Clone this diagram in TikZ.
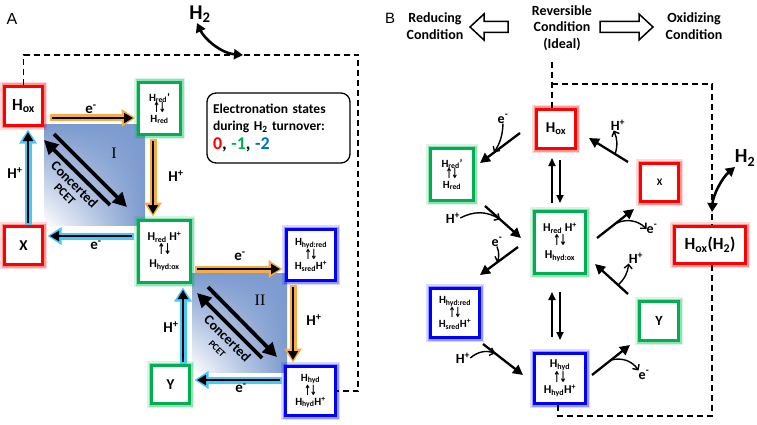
\documentclass[tikz,border=0pt]{standalone}
\usepackage{fontspec}
\setmainfont{Carlito}
\newfontfamily\dejavu{DejaVu Sans}
\newfontfamily\arialf{Liberation Sans}
\newfontfamily\timesf{Liberation Serif}
\usetikzlibrary{arrows.meta,calc,shadings}
\newcommand\sbs[1]{\textsubscript{#1}}
\newcommand\sps[1]{\textsuperscript{#1}}
\newcommand\fz[2]{\fontsize{#1}{#2}\selectfont\bfseries}
\newcommand\ud[1]{\scalebox{0.6}[1]{\dejavu\fontsize{#1}{#1}\selectfont ↑\kern-0.15em↓}}
\definecolor{cred}{RGB}{255,0,0}
\definecolor{cgreen}{RGB}{0,176,80}
\definecolor{cblue}{RGB}{0,0,255}
\definecolor{corange}{RGB}{247,172,70}
\definecolor{ccyan}{RGB}{70,200,250}
\definecolor{cshade}{RGB}{124,154,206}
\definecolor{nblue}{RGB}{0,112,192}
\tikzset{
 box/.style={draw=#1, line width=3pt, fill=white, align=center, inner sep=0pt,
   preaction={draw=#1, line width=9pt, opacity=0.15},
   preaction={draw=#1, line width=6pt, opacity=0.3}},
 garr/.style={line width=2.4pt, -{Triangle[length=9pt,width=10pt]},
   preaction={draw=#1, line width=7pt, -{Triangle[length=14pt,width=17pt]}, shorten >=-2.5pt, shorten <=-2pt}},
 barr/.style={line width=2.3pt, -{Triangle[length=10pt,width=10pt]}},
 varr/.style={line width=1.7pt, -{Triangle[length=8pt,width=7pt]}},
 sarr/.style={line width=1.4pt, -{Straight Barb[length=4pt,width=8pt]}},
 carr/.style={line width=3.8pt, -{Triangle[length=14pt,width=14pt]}},
 htwo/.style={line width=2.6pt, {Triangle[length=9pt,width=10pt]}-{Triangle[length=9pt,width=10pt]}},
 dashl/.style={line width=1.6pt, dash pattern=on 6pt off 4pt},
 lbl/.style={font=\fz{15}{18}, inner sep=0pt},
 lblb/.style={font=\fz{14}{17}, inner sep=0pt},
}
\begin{document}
\begin{tikzpicture}[x=1pt,y=-1pt]
\useasboundingbox (0,0) rectangle (757,425);
\fill[white] (0,0) rectangle (757,425);

% ---------------- Panel A ----------------
\node[font=\arialf\fontsize{16}{18}\selectfont, inner sep=0pt] (labA) at (12,19) {A};

\shade[upper right=cshade, upper left=cshade, lower right=cshade, lower left=white] (44,125) rectangle (145,225);
\shade[upper right=cshade, upper left=cshade, lower right=cshade, lower left=white] (192,273) rectangle (287,372);

\node[box=cred, minimum width=38pt, minimum height=39pt, font=\fz{17}{20}] (Hox) at (23.5,106) {H\sbs{ox}};
\node[box=cgreen, minimum width=42pt, minimum height=52pt, font=\fz{11}{12}] (Hredp) at (159.5,108.5) {H\sbs{red}’\\[-1pt]\ud{14}\\[-2pt]H\sbs{red}};
\node[box=cred, minimum width=38pt, minimum height=38pt, font=\fz{15}{18}] (X) at (23.5,245.5) {X};
\node[box=cgreen, minimum width=52pt, minimum height=62pt, font=\fz{12}{13}] (HredH) at (164.5,251.5) {H\sbs{red} H\sps{+}\\[1pt]\ud{15}\\[0pt]H\sbs{hyd:ox}};
\node[box=cblue, minimum width=49pt, minimum height=51pt, font=\fz{11}{12}] (Hhydred) at (311,255) {H\sbs{hyd:red}\\[0pt]\ud{14}\\[-2pt]H\sbs{sred}H\sps{+}};
\node[box=cgreen, minimum width=38pt, minimum height=38pt, font=\fz{15}{18}] (Y) at (170.5,384.5) {Y};
\node[box=cblue, minimum width=50pt, minimum height=49pt, font=\fz{11}{12}] (Hhyd) at (310.5,391) {H\sbs{hyd}\\[0pt]\ud{14}\\[-2pt]H\sbs{hyd}H\sps{+}};

\node[draw, rounded corners=9pt, line width=1.3pt, minimum width=143pt, minimum height=70pt, text width=131pt, align=left, inner sep=5pt, font=\fz{13.5}{17}] (info) at (278.5,128)
 {Electronation states\\during H\sbs{2} turnover:\\[2pt]{\fz{18}{20}\color{cred}0\color{black}, \color{cgreen}-1\color{black}, \color{nblue}-2}};

% arrows A
\draw[garr=corange] ([xshift=8pt,yshift=-12pt]Hox.east) -- ([xshift=-4pt,yshift=-9.5pt]Hredp.west);
\draw[garr=corange] ([xshift=-6.5pt,yshift=-5pt]Hredp.south) -- ([xshift=-11.5pt,yshift=5pt]HredH.north);
\draw[garr=ccyan] ([xshift=-5pt,yshift=15.5pt]HredH.west) -- ([xshift=6pt,yshift=9.5pt]X.east);
\draw[garr=ccyan] ([xshift=4.5pt,yshift=2pt]X.north) -- ([xshift=4.5pt,yshift=-5pt]Hox.south);
\draw[garr=corange] ([xshift=5pt,yshift=-17.5pt]HredH.east) -- ([xshift=-5pt,yshift=-14pt]Hhydred.west);
\draw[garr=corange] ([xshift=-18pt,yshift=-5pt]Hhydred.south) -- ([xshift=-17.5pt,yshift=5pt]Hhyd.north);
\draw[garr=ccyan] ([xshift=-4pt,yshift=11pt]Hhyd.west) -- ([xshift=6pt,yshift=4.5pt]Y.east);
\draw[garr=ccyan] ([xshift=12.5pt,yshift=2pt]Y.north) -- ([xshift=18.5pt,yshift=-6pt]HredH.south);

\node[lbl] (eA1) at (91,109) {e\sps{-}};
\node[lbl] (hA2) at (176,176) {H\sps{+}};
\node[lbl] (eA3) at (96,245) {e\sps{-}};
\node[lbl] (hA4) at (15,173) {H\sps{+}};
\node[lbl] (eA5) at (240,256) {e\sps{-}};
\node[lbl] (hA6) at (314,320) {H\sps{+}};
\node[lbl] (eA7) at (241,388) {e\sps{-}};
\node[lbl] (hA8) at (171,327) {H\sps{+}};

% concerted PCET
\coordinate (cI1) at (54,134); \coordinate (cI2) at (127,207);
\coordinate (cI3) at (110,205); \coordinate (cI4) at (44,140);
\draw[carr] (cI1) -- (cI2);
\draw[carr] (cI3) -- (cI4);
\node[rotate=-45, align=center, inner sep=0pt, font=\fz{14}{14}] (pcetI) at (70,189) {Concerted\\[-1pt]{\fz{12}{12}PCET}};
\coordinate (cII1) at (208,287); \coordinate (cII2) at (277,357);
\coordinate (cII3) at (262,358); \coordinate (cII4) at (197,293);
\draw[carr] (cII1) -- (cII2);
\draw[carr] (cII3) -- (cII4);
\node[rotate=-45, align=center, inner sep=0pt, font=\fz{14}{14}] (pcetII) at (223,343) {Concerted\\[-1pt]{\fz{9.5}{10}PCET}};

\node[font=\timesf\fontsize{16}{16}\selectfont, inner sep=0pt] (romI) at (114,153) {I};
\node[font=\timesf\fontsize{16}{16}\selectfont, inner sep=0pt] (romII) at (260,300) {II};

% dashed and H2 (A)
\coordinate (dA1) at (23.5,55); \coordinate (dA2) at (358,55);
\draw[dashl] (Hox.north) -- (dA1) -- (dA2) |- (Hhyd.east);
\node[font=\fz{21}{22}, inner sep=0pt] (H2A) at (200,14) {H\sbs{2}};
\coordinate (h2a1) at (197,23); \coordinate (h2a2) at (243,55);
\draw[htwo] (h2a1) .. controls (204,38) and (220,53) .. (h2a2);

% ---------------- Panel B ----------------
\node[font=\arialf\fontsize{15}{17}\selectfont, inner sep=0pt] (labB) at (390,18) {B};
\node[align=center, inner sep=0pt, font=\fz{14}{17}] (redc) at (435,26) {Reducing\\Condition};
\node[align=center, inner sep=0pt, font=\fz{14}{16.5}] (revc) at (562,28) {Reversible\\Condition\\(Ideal)};
\node[align=center, inner sep=0pt, font=\fz{14}{17}] (oxc) at (694,26) {Oxidizing\\Condition};
\draw[line width=1.5pt, line join=miter] (470,27) -- (484,14) -- (484,21.5) -- (508,21.5) -- (508,32.5) -- (484,32.5) -- (484,40) -- cycle;
\draw[line width=1.5pt, line join=miter] (653,27) -- (639,14) -- (639,21.5) -- (600,21.5) -- (600,32.5) -- (639,32.5) -- (639,40) -- cycle;

\node[box=cred, minimum width=39pt, minimum height=39pt, font=\fz{15}{18}] (HoxB) at (556,129) {H\sbs{ox}};
\node[box=cgreen, minimum width=43pt, minimum height=52pt, font=\fz{11}{12}] (HredpB) at (452,174.5) {H\sbs{red}’\\[-1pt]\ud{14}\\[-2pt]H\sbs{red}};
\node[box=cred, minimum width=38pt, minimum height=38pt, font=\fz{10}{12}] (XB) at (659.5,182.5) {X};
\node[box=cgreen, minimum width=51pt, minimum height=62pt, font=\fz{12}{13}] (HredHB) at (560,242.5) {H\sbs{red} H\sps{+}\\[1pt]\ud{15}\\[0pt]H\sbs{hyd:ox}};
\node[box=cred, minimum width=71pt, minimum height=37pt, font=\fz{17}{20}] (HoxH2) at (710,245) {H\sbs{ox}(H\sbs{2})};
\node[box=cblue, minimum width=49pt, minimum height=49pt, font=\fz{11}{12}] (HhydredB) at (455,313) {H\sbs{hyd:red}\\[0pt]\ud{14}\\[-2pt]H\sbs{sred}H\sps{+}};
\node[box=cgreen, minimum width=39pt, minimum height=39pt, font=\fz{14}{17}] (YB) at (659,321) {Y};
\node[box=cblue, minimum width=51pt, minimum height=50pt, font=\fz{12}{13}] (HhydB) at (560,378.5) {H\sbs{hyd}\\[0pt]\ud{15}\\[-2pt]H\sbs{hyd}H\sps{+}};

% dashed B
\coordinate (dB0) at (552,62); \coordinate (dB1) at (552,84); \coordinate (dB2) at (712,84); \coordinate (dB3) at (712,416);
\draw[dashl] (dB0) -- ([xshift=-4pt]HoxB.north);
\draw[dashl] (dB1) -- (dB2) -- ([xshift=2pt]HoxH2.north);
\draw[dashl] ([xshift=2pt]HoxH2.south) -- (dB3) -| ([xshift=-2pt]HhydB.south);
\node[font=\fz{20}{22}, inner sep=0pt] (H2B) at (745,158) {H\sbs{2}};
\coordinate (h2b1) at (712,212); \coordinate (h2b2) at (735,167);
\draw[htwo] (h2b1) .. controls (713,195) and (722,178) .. (h2b2);

% vertical pairs
\draw[varr] ([xshift=-8pt,yshift=7pt]HredHB.north) -- ([xshift=-4pt,yshift=-8pt]HoxB.south);
\draw[varr] ([xshift=4pt,yshift=-10pt]HoxB.south) -- ([yshift=7pt]HredHB.north);
\draw[varr] ([xshift=-8pt,yshift=15pt]HhydB.north) -- ([xshift=-8pt,yshift=-17pt]HredHB.south);
\draw[varr] ([yshift=-17pt]HredHB.south) -- ([yshift=12pt]HhydB.north);

% main arrows B
\draw[barr] ([xshift=-15pt,yshift=-4pt]HoxB.west) -- coordinate[pos=0.65] (m1) ([xshift=5pt,yshift=11.5pt]HredpB.east);
\draw[barr] ([xshift=33pt,yshift=-4pt]HredpB.south) -- coordinate[pos=0.42] (m2) ([xshift=-12pt,yshift=4.5pt]HredHB.west);
\draw[barr] ([xshift=-15pt,yshift=-4.5pt]HredHB.west) -- coordinate[pos=0.55] (m3) ([xshift=25pt,yshift=12pt]HhydredB.north);
\draw[barr] ([xshift=28pt,yshift=-5pt]HhydredB.south) -- coordinate[pos=0.3] (m4) ([xshift=-10pt,yshift=3.5pt]HhydB.west);
\draw[barr] ([xshift=5pt,yshift=3.5pt]HhydB.east) -- coordinate[pos=0.5] (m5) ([xshift=-8pt,yshift=-24pt]YB.west);
\draw[barr] ([xshift=-10pt,yshift=6pt]YB.north west) -- coordinate[pos=0.3] (m6) ([xshift=8pt,yshift=-21.5pt]HredHB.east);
\draw[barr] ([xshift=10pt,yshift=4.5pt]HredHB.east) -- coordinate[pos=0.5] (m7) ([xshift=-5pt,yshift=-6pt]XB.south west);
\draw[barr] ([xshift=-11pt]XB.north west) -- coordinate[pos=0.33] (m8) ([xshift=12pt,yshift=-9pt]HoxB.east);

\node[lblb] (eB1) at (503,119) {e\sps{-}};
\node[lblb] (hB2) at (453,218) {H\sps{+}};
\node[lblb] (eB3) at (497,242) {e\sps{-}};
\node[lblb] (hB4) at (463,358) {H\sps{+}};
\node[lblb] (eB5) at (644,375) {e\sps{-}};
\node[lblb] (hB6) at (636,258) {H\sps{+}};
\node[lblb] (eB7) at (652,229) {e\sps{-}};
\node[lblb] (hB8) at (618,125) {H\sps{+}};

\draw[sarr] (eB1.south) to[bend left=15] (m1);
\draw[sarr] (hB2.east) to[bend left=30] (m2);
\draw[sarr] (eB3.south) to[bend left=20] (m3);
\draw[sarr] (hB4.east) to[bend left=30] (m4);
\draw[sarr] (m5) to[bend left=35] (eB5.north west);
\draw[sarr] (m6) to[bend right=20] (hB6.south west);
\draw[sarr] (m7) to[bend left=35] (eB7.west);
\draw[sarr] (m8) to[bend right=20] ([xshift=3pt]hB8.south west);
\end{tikzpicture}
\end{document}
